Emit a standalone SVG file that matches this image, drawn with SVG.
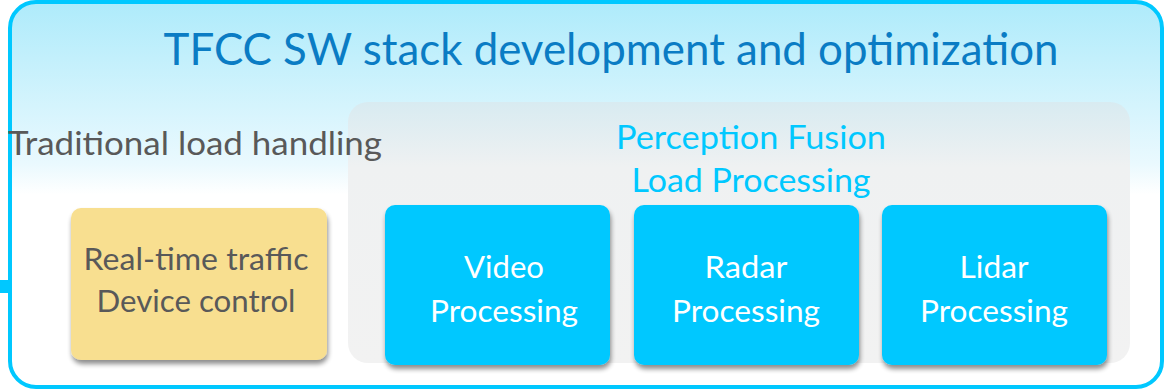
<svg xmlns="http://www.w3.org/2000/svg" width="1165" height="390" viewBox="0 0 1165 390">
<defs>
<linearGradient id="bg" x1="0" y1="0" x2="0" y2="1">
<stop offset="0" stop-color="#AEEBFB"/>
<stop offset="0.42" stop-color="#EAF9FE"/>
<stop offset="0.5" stop-color="#FFFFFF"/>
<stop offset="1" stop-color="#FFFFFF"/>
</linearGradient>
<linearGradient id="panel" x1="0" y1="0" x2="0" y2="1">
<stop offset="0" stop-color="#D8EBF1"/>
<stop offset="0.25" stop-color="#EFF1F2"/>
<stop offset="1" stop-color="#F2F2F2"/>
</linearGradient>
<filter id="sh" x="-10%" y="-10%" width="125%" height="130%">
<feGaussianBlur in="SourceAlpha" stdDeviation="2.5"/>
<feOffset dx="1" dy="4" result="b"/>
<feComponentTransfer><feFuncA type="linear" slope="0.45"/></feComponentTransfer>
<feMerge><feMergeNode/><feMergeNode in="SourceGraphic"/></feMerge>
</filter>
</defs>
<style>
.t{font-family:Lato,"Open Sans","Liberation Sans",sans-serif}
.blue{fill:#00C8FF}
.box{fill:#00C8FF;filter:url(#sh)}
.w{fill:#FFFFFF;font-size:30px}
.g{fill:#595959}
</style>
<rect x="0" y="280" width="10" height="13" fill="#00C8FF"/>
<rect x="10" y="2" width="1152" height="385" rx="26" fill="url(#bg)" stroke="#00C8FF" stroke-width="4"/>
<text class="t" x="611" y="65" text-anchor="middle" font-size="44" fill="#0A7CC4" textLength="895" lengthAdjust="spacingAndGlyphs">TFCC SW stack development and optimization</text>
<rect x="348" y="102" width="782" height="261" rx="20" fill="url(#panel)"/>
<text class="t g" x="8" y="155" font-size="33" textLength="374" lengthAdjust="spacingAndGlyphs">Traditional load handling</text>
<text class="t blue" x="751" y="149" text-anchor="middle" font-size="33" textLength="270" lengthAdjust="spacingAndGlyphs">Perception Fusion</text>
<text class="t blue" x="751" y="192" text-anchor="middle" font-size="33" textLength="239" lengthAdjust="spacingAndGlyphs">Load Processing</text>
<g id="realtime">
<rect x="71" y="208" width="256" height="152" rx="10" fill="#F8DF90" filter="url(#sh)"/>
<text class="t g" x="196" y="270" text-anchor="middle" font-size="30" textLength="225" lengthAdjust="spacingAndGlyphs">Real-time traffic</text>
<text class="t g" x="196" y="312" text-anchor="middle" font-size="30" textLength="199" lengthAdjust="spacingAndGlyphs">Device control</text>
</g>
<g id="video">
<rect class="box" x="385" y="205" width="225" height="160" rx="10"/>
<text class="t w" x="504" y="278" text-anchor="middle" textLength="80" lengthAdjust="spacingAndGlyphs">Video</text>
<text class="t w" x="504" y="322" text-anchor="middle" textLength="148" lengthAdjust="spacingAndGlyphs">Processing</text>
</g>
<g id="radar">
<rect class="box" x="634" y="205" width="225" height="160" rx="10"/>
<text class="t w" x="746" y="278" text-anchor="middle" textLength="83" lengthAdjust="spacingAndGlyphs">Radar</text>
<text class="t w" x="746" y="322" text-anchor="middle" textLength="148" lengthAdjust="spacingAndGlyphs">Processing</text>
</g>
<g id="lidar">
<rect class="box" x="882" y="205" width="225" height="160" rx="10"/>
<text class="t w" x="994" y="278" text-anchor="middle" textLength="69" lengthAdjust="spacingAndGlyphs">Lidar</text>
<text class="t w" x="994" y="322" text-anchor="middle" textLength="148" lengthAdjust="spacingAndGlyphs">Processing</text>
</g>
<g id="connectors"/>
</svg>
